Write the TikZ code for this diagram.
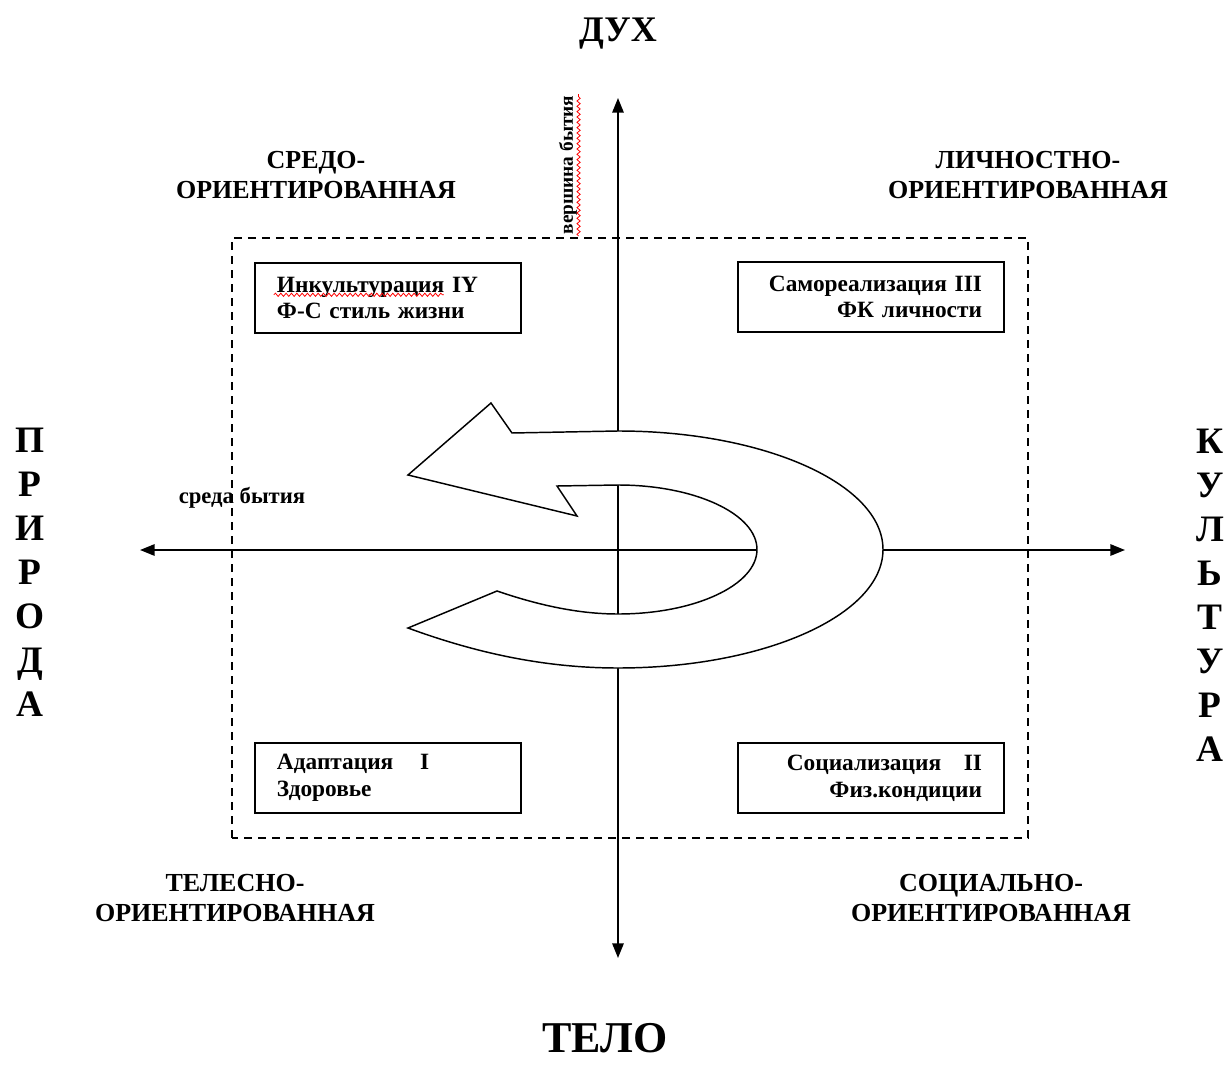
\documentclass[tikz,border=0pt]{standalone}
\usepackage{fontspec}
\setmainfont{Liberation Serif}
\usetikzlibrary{arrows.meta,decorations.pathmorphing}

\begin{document}
\begin{tikzpicture}[x=0.75pt, y=0.75pt,
    every node/.style={font=\bfseries},
    axis/.style={line width=1.5pt, {Triangle[length=11pt,width=8.5pt]}-{Triangle[length=11pt,width=8.5pt]}},
    zone/.style={line width=1.1pt, dash pattern=on 6pt off 4.5pt},
    quad/.style={draw, line width=1.8pt, inner xsep=16.5pt, text width=166.5pt, minimum height=52.5pt, font=\bfseries\fontsize{17.5}{20}\selectfont},
    orient/.style={align=center, font=\bfseries\fontsize{19.5}{22.5}\selectfont},
    side/.style={align=center, font=\bfseries\fontsize{28}{33}\selectfont},
    small/.style={font=\bfseries\fontsize{17}{20}\selectfont},
    spell/.style={red, line width=0.6pt, decorate, decoration={snake, amplitude=1.2pt, segment length=4pt}}]

    \useasboundingbox (-618,-514) rectangle (612,550);

    % Axes ends
    \coordinate (up) at (0,452);
    \coordinate (down) at (0,-408);
    \coordinate (west) at (-478,0);
    \coordinate (east) at (507,0);

    % Draw the axes
    \draw[axis] (down) -- (up);
    \draw[axis] (west) -- (east);

    % Dashed zone round the four boxes
    \draw[zone] (-386,-288) rectangle (410,312);

    % Turning arrow over the axes
    \draw[line width=1.1pt, fill=white]
        (-210,75) -- (-127,147) -- (-106,117) -- (0,119)
        arc[start angle=90, end angle=-90, x radius=265, y radius=118.5]
        .. controls (-80,-118) and (-150,-100) .. (-210,-78)
        -- (-121,-41)
        .. controls (-80,-55) and (-40,-64) .. (0,-64)
        arc[start angle=-90, end angle=90, x radius=139, y radius=64.5]
        -- (-61,64) -- (-41,34) -- cycle;

    % Axis names
    \node[font=\bfseries\fontsize{27}{30}\selectfont] (dukh) at (0,516) {ДУХ};
    \node[font=\bfseries\fontsize{33}{38}\selectfont] (telo) at (-13,-488) {ТЕЛО};
    \node[side] (priroda) at (-588,-22) {П\\Р\\И\\Р\\О\\Д\\А};
    \node[side] (kultura) at (592,-45) {К\\У\\Л\\Ь\\Т\\У\\Р\\А};

    % Axis captions
    \node[small] (sreda) at (-376,52) {среда бытия};
    \node[font=\bfseries\fontsize{14.5}{17}\selectfont, rotate=90, inner sep=1pt] (vershina) at (-50,385) {вершина бытия};
    \draw[spell] (vershina.south west) -- (vershina.south east);

    % Corner labels
    \node[orient] (sredo) at (-302,375) {СРЕДО-\\ОРИЕНТИРОВАННАЯ};
    \node[orient] (lichn) at (410,375) {ЛИЧНОСТНО-\\ОРИЕНТИРОВАННАЯ};
    \node[orient] (telesn) at (-383,-348) {ТЕЛЕСНО-\\ОРИЕНТИРОВАННАЯ};
    \node[orient] (social) at (373,-348) {СОЦИАЛЬНО-\\ОРИЕНТИРОВАННАЯ};

    % Quadrant boxes
    \node[quad, align=left] (inkult) at (-230,252) {Инкультурация IY\\Ф-С стиль жизни};
    \draw[spell] ([shift={(20,-33)}]inkult.north west) -- ([shift={(190,-33)}]inkult.north west);
    \node[quad, align=right] (samoreal) at (253,253) {Самореализация III\\ФК личности};
    \node[quad, align=left] (adapt) at (-230,-228) {Адаптация\hspace{20pt}I\\Здоровье};
    \node[quad, align=right] (socializ) at (253,-228) {Социализация\hspace{17pt}II\\Физ.кондиции};
\end{tikzpicture}
\end{document}
